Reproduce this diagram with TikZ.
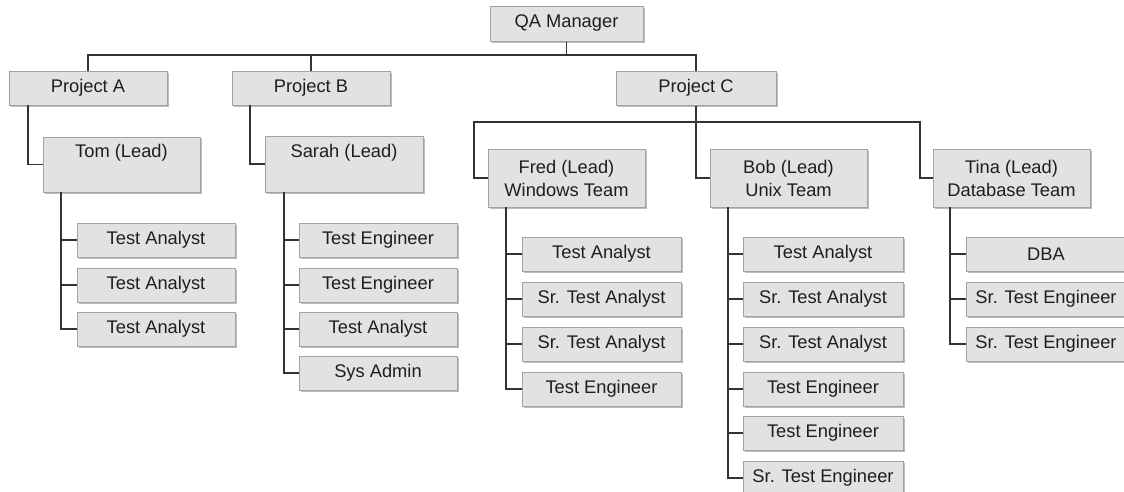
\documentclass[tikz,border=0pt]{standalone}
\usepackage{fontspec}
\setmainfont{Liberation Sans}
\usetikzlibrary{shadows}
\definecolor{boxfill}{HTML}{E2E2E4}
\definecolor{boxline}{HTML}{A2A2A2}
\definecolor{shadowc}{HTML}{BDBDBD}
\definecolor{conn}{HTML}{333333}
\definecolor{txtc}{HTML}{1E1E1E}
\tikzset{
  box/.style={draw=boxline, fill=boxfill, line width=1pt, inner sep=0pt,
    text=txtc, align=center, font=\fontsize{18.3}{23}\selectfont,
    drop shadow={shadow xshift=1.5pt, shadow yshift=-1.5pt, fill=shadowc, opacity=1}},
  lbl/.style={text=txtc, inner sep=0pt, font=\fontsize{18.3}{23}\selectfont},
  link/.style={draw=conn, line width=1.4pt}
}
\newcommand\bx[6]{\node[box, minimum width={#4-#2}, minimum height={#5-#3}] (#1) at ({(#2+#4)/2},{(#3+#5)/2}) {#6};}
\begin{document}
\begin{tikzpicture}[x=1pt,y=-1pt]
\useasboundingbox (0,0) rectangle (1124,491);
\clip (0,0) rectangle (1124,491);
% top levels
\bx{qa}{490}{6}{643}{41}{QA Manager}
\bx{pa}{9}{71}{167}{105}{Project A}
\bx{pb}{232}{71}{390}{105}{Project B}
\bx{pc}{616}{71}{776}{105}{Project C}
% leads
\bx{tom}{43}{137}{200}{192}{}
\node[lbl] at ([yshift=-16pt]tom.north) {Tom (Lead)};
\bx{sarah}{265}{136}{423}{192}{}
\node[lbl] at ([yshift=-17pt]sarah.north) {Sarah (Lead)};
\bx{fred}{488}{149}{645}{207}{Fred (Lead)\\Windows Team}
\bx{bob}{710}{149}{867}{207}{Bob (Lead)\\Unix Team}
\bx{tina}{933}{149}{1090}{207}{Tina (Lead)\\Database Team}
% Tom's team
\bx{ta1}{77}{223}{235}{257}{Test Analyst}
\bx{ta2}{77}{268}{235}{302}{Test Analyst}
\bx{ta3}{77}{312}{235}{346}{Test Analyst}
% Sarah's team
\bx{sb1}{299}{223}{457}{257}{Test Engineer}
\bx{sb2}{299}{268}{457}{302}{Test Engineer}
\bx{sb3}{299}{312}{457}{346}{Test Analyst}
\bx{sb4}{299}{356}{457}{390}{Sys Admin}
% Fred's team
\bx{f1}{522}{237}{681}{271}{Test Analyst}
\bx{f2}{522}{282}{681}{316}{Sr. Test Analyst}
\bx{f3}{522}{327}{681}{361}{Sr. Test Analyst}
\bx{f4}{522}{372}{681}{406}{Test Engineer}
% Bob's team
\bx{b1}{743}{237}{903}{271}{Test Analyst}
\bx{b2}{743}{282}{903}{316}{Sr. Test Analyst}
\bx{b3}{743}{327}{903}{361}{Sr. Test Analyst}
\bx{b4}{743}{372}{903}{406}{Test Engineer}
\bx{b5}{743}{416}{903}{450}{Test Engineer}
\bx{b6}{743}{461}{903}{495}{Sr. Test Engineer}
% Tina's team
\bx{t1}{966}{237}{1126}{271}{DBA}
\bx{t2}{966}{282}{1126}{316}{Sr. Test Engineer}
\bx{t3}{966}{327}{1126}{361}{Sr. Test Engineer}
% connectors: top level
\coordinate (top1) at (88,55);
\coordinate (top2) at (696,55);
\draw[link] (qa.south) -- (qa.south |- top1);
\draw[link] (pa.north) -- (top1) -- (top2) -- (pc.north);
\draw[link] (pb.north) -- (pb.north |- top1);
% project to leads
\coordinate (pal) at (28,105);
\coordinate (pbl) at (250,105);
\draw[link] (pal) |- (tom.west);
\draw[link] (pbl) |- (sarah.west);
\coordinate (c2) at (474,122);
\coordinate (c3) at (920,122);
\draw[link] (pc.south) |- (bob.west);
\draw[link] (fred.west) -| (c2) -- (c3) |- (tina.west);
% Tom team
\coordinate (tl) at (61,192);
\draw[link] (tl) |- (ta3.west);
\draw[link] (tl |- ta1.west) -- (ta1.west);
\draw[link] (tl |- ta2.west) -- (ta2.west);
% Sarah team
\coordinate (sl) at (284,192);
\draw[link] (sl) |- (sb4.west);
\draw[link] (sl |- sb1.west) -- (sb1.west);
\draw[link] (sl |- sb2.west) -- (sb2.west);
\draw[link] (sl |- sb3.west) -- (sb3.west);
% Fred team
\coordinate (fl) at (506,207);
\draw[link] (fl) |- (f4.west);
\draw[link] (fl |- f1.west) -- (f1.west);
\draw[link] (fl |- f2.west) -- (f2.west);
\draw[link] (fl |- f3.west) -- (f3.west);
% Bob team
\coordinate (bl) at (728,207);
\draw[link] (bl) |- (b6.west);
\draw[link] (bl |- b1.west) -- (b1.west);
\draw[link] (bl |- b2.west) -- (b2.west);
\draw[link] (bl |- b3.west) -- (b3.west);
\draw[link] (bl |- b4.west) -- (b4.west);
\draw[link] (bl |- b5.west) -- (b5.west);
% Tina team
\coordinate (tnl) at (950,207);
\draw[link] (tnl) |- (t3.west);
\draw[link] (tnl |- t1.west) -- (t1.west);
\draw[link] (tnl |- t2.west) -- (t2.west);
\end{tikzpicture}
\end{document}
